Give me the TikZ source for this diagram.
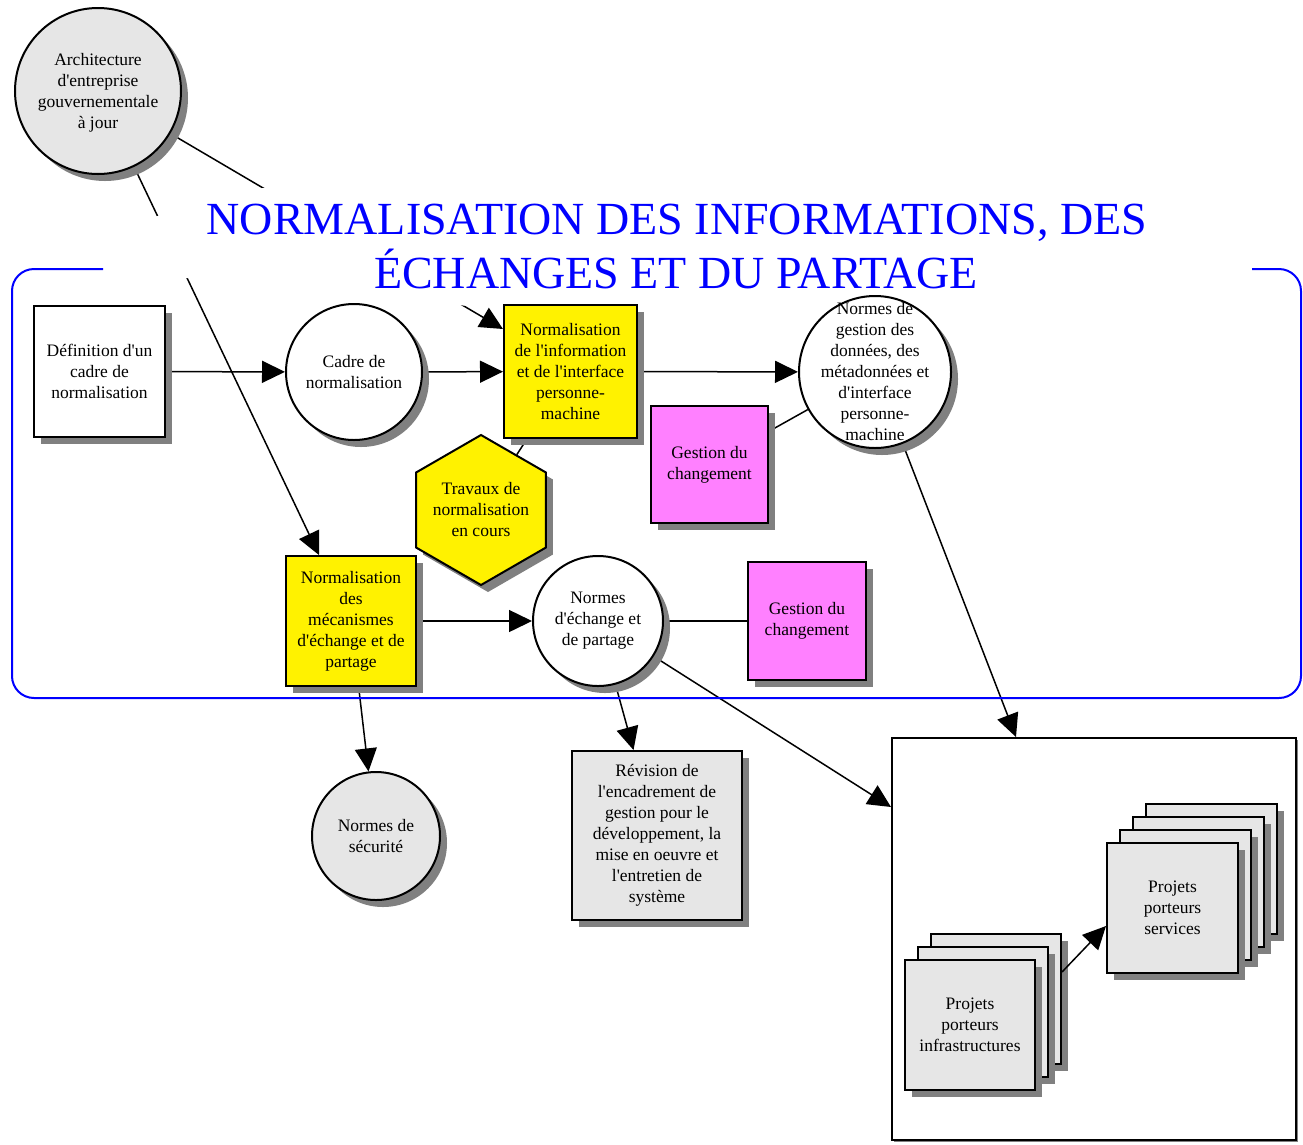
\documentclass[tikz,border=0pt]{standalone}
\usepackage{fontspec}
\setmainfont{Liberation Serif}
% plain family: keeps the straight apostrophe
\newfontfamily\nf{Liberation Serif}
\usetikzlibrary{arrows.meta,shapes.geometric,shadows}
\definecolor{boxgray}{HTML}{E6E6E6}
\definecolor{shadegray}{HTML}{808080}
\definecolor{pinkbox}{HTML}{FF80FF}
\definecolor{frameblue}{HTML}{0000FF}
\pgfdeclarelayer{background}
\pgfsetlayers{background,main}
\begin{document}
\begin{tikzpicture}[x=1pt,y=-1pt,
  every node/.style={font=\nf\fontsize{17.5}{21}\selectfont, align=center, inner sep=0pt},
  shade7/.style={drop shadow={shadow xshift=7pt,shadow yshift=-7pt,fill=shadegray,opacity=1}},
  card/.style={rectangle,draw=black,line width=2pt,shade7},
  % negative inner sep: the circle keeps its set size, the text may run past it
  disc/.style={circle,draw=black,line width=2pt,shade7,inner sep=-20pt},
  link/.style={line width=1.5pt},
  flow/.style={link,-{Triangle[length=23pt,width=22pt]}},
  titletext/.style={font=\nf\fontsize{46}{54}\selectfont, text=frameblue, anchor=base},
]
\useasboundingbox (0,0) rectangle (1303,1144);

% ---- nodes ----
\node[disc,fill=boxgray,minimum size=166pt,text depth=-1pt] (arch) at (98,91) {Architecture\\d'entreprise\\gouvernementale\\à jour};
\node[card,fill=white,minimum size=131pt] (def) at (99.5,371.5) {Définition d'un\\cadre de\\normalisation};
\node[disc,fill=white,minimum size=136pt] (cadre) at (354,372) {Cadre de\\normalisation};
\node[card,fill=yellow,minimum size=133pt] (ninfo) at (570.5,371.5) {Normalisation\\de l'information\\et de l'interface\\personne-\\machine};
\node[disc,fill=white,minimum size=152pt] (ngest) at (875,372) {Normes de\\gestion des\\données, des\\métadonnées et\\d'interface\\personne-\\machine};
\node[card,fill=pinkbox,minimum size=117pt] (chg1) at (709.5,464.5) {Gestion du\\changement};
\node[regular polygon,regular polygon sides=6,shape border rotate=30,draw=black,line width=2pt,fill=yellow,shade7,inner sep=-12pt,minimum size=150pt] (trav) at (481,510) {Travaux de\\normalisation\\en cours};
\node[card,fill=yellow,minimum size=130pt] (nmeca) at (351,621) {Normalisation\\des\\mécanismes\\d'échange et de\\partage};
\node[disc,fill=white,minimum size=130pt] (nech) at (598,621) {Normes\\d'échange et\\de partage};
\node[card,fill=pinkbox,minimum size=118pt] (chg2) at (807,621) {Gestion du\\changement};
\node[disc,fill=boxgray,minimum size=128pt] (secu) at (376,836) {Normes de\\sécurité};
\node[card,fill=boxgray,minimum width=170pt,minimum height=169pt] (rev) at (657,835.5) {Révision de\\l'encadrement de\\gestion pour le\\développement, la\\mise en oeuvre et\\l'entretien de\\système};

% project area
\node[rectangle,draw=black,line width=2pt,fill=white,
      drop shadow={shadow xshift=2pt,shadow yshift=-2pt,fill=shadegray,opacity=1},
      minimum width=404pt,minimum height=402pt] (proj) at (1094,939) {};
\node[card,fill=boxgray,minimum size=130pt] (infraC) at (996,999) {};
\node[card,fill=boxgray,minimum size=130pt] (infraB) at (983,1012) {};
\node[card,fill=boxgray,minimum size=130pt] (infra) at (970,1025) {Projets\\porteurs\\infrastructures};
\node[card,fill=boxgray,minimum width=131pt,minimum height=130pt] (servD) at (1211.5,869) {};
\node[card,fill=boxgray,minimum width=131pt,minimum height=130pt] (servC) at (1198.5,882) {};
\node[card,fill=boxgray,minimum width=131pt,minimum height=130pt] (servB) at (1185.5,895) {};
\node[card,fill=boxgray,minimum width=131pt,minimum height=130pt] (serv) at (1172.5,908) {Projets\\porteurs\\services};
\draw[flow] ([yshift=27pt]infraC.east) -- ([yshift=-18pt]serv.west);

% title
\node[titletext] (title1) at (677,234) {NORMALISATION DES INFORMATIONS, DES};
\node[titletext] (title2) at (676,288) {ÉCHANGES ET DU PARTAGE};

% ---- connectors, title backdrop and frame, behind the nodes ----
\begin{pgfonlayer}{background}
\fill[white] (0,0) rectangle (1303,1144);
\draw[flow] (def) -- (cadre);
\draw[flow] (cadre) -- (ninfo);
\draw[flow] (ninfo) -- (ngest);
\draw[link] (chg1) -- (ngest);
\draw[link] (trav) -- (ninfo);
\draw[flow] (arch) -- ([yshift=-25pt]ninfo.north west);
\draw[flow] (arch) -- ([xshift=34pt]nmeca.north west);
\draw[flow] (nmeca) -- (nech);
\draw[link] (nech) -- (chg2);
\draw[flow] (nmeca) -- (secu);
\draw[flow] (nech) -- (rev);
\draw[flow] (nech) -- ([yshift=-70pt]proj.north west);
\draw[flow] (ngest) -- ([xshift=125pt]proj.north west);
% white backdrop of the title
\fill[white] (150,218) -- (263,188) -- (1160,188) -- (1160,296) -- (482,296)
  -- (468,306) -- (186,278) -- (150,278) -- cycle;
% open frame around the normalisation area
\draw[frameblue,line width=2pt,rounded corners=22pt]
  (103,269) -- (12,269) -- (12,698) -- (1301,698) -- (1301,269) -- (1252,269);
\end{pgfonlayer}
\end{tikzpicture}
\end{document}
